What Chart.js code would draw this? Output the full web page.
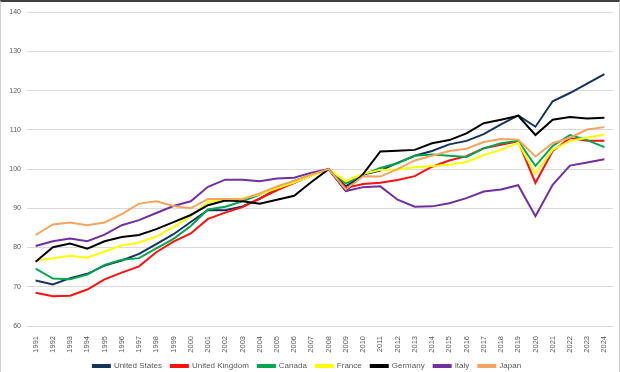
<!DOCTYPE html>
<html>
<head>
<meta charset="utf-8">
<script src="https://cdn.jsdelivr.net/npm/chart.js@4.4.1/dist/chart.umd.min.js"></script>
<style>
    html, body { margin: 0; padding: 0; background: #fff; }
    #wrap { width: 618px; height: 370px; border: 1px solid #d0d0d0; border-top: 2px solid #404040; position: relative; }
    canvas { display: block; }
</style>
</head>
<body>
<div id="wrap"><canvas id="myChart" width="618" height="369"></canvas></div>
<script>
// years 1991..2024
var years = [];
for (var y = 1991; y <= 2024; y++) years.push(String(y));

var yTicks = [60, 70, 80, 90, 100, 110, 120, 130, 140];

var unitedStates = [71.6, 70.6, 72.2, 73.3, 75.4, 76.7, 78.4, 80.9, 83.4, 86.5, 89.6, 89.5, 90.5, 92.4, 95.0, 96.5, 98.4, 100,
    95.6, 98.6, 99.6, 101.6, 103.4, 104.6, 106.3, 107.2, 108.9, 111.4, 113.7, 110.8, 117.3, 119.4, 121.8, 124.2];
var unitedKingdom = [68.5, 67.6, 67.7, 69.3, 71.9, 73.6, 75.2, 78.8, 81.5, 83.6, 87.3, 88.9, 90.3, 92.5, 94.6, 96.5, 98.4, 100,
    95.2, 96.2, 96.5, 97.2, 98.2, 100.6, 102.2, 103.3, 105.3, 106.2, 107.1, 96.5, 104.6, 107.9, 107.2, 107.2];
var canada = [74.6, 72.1, 71.9, 73.1, 75.6, 76.9, 77.3, 79.8, 82.2, 85.5, 89.7, 90.4, 91.8, 93.5, 95.4, 97.0, 98.6, 100,
    96.4, 98.6, 100.3, 101.5, 103.4, 103.7, 103.4, 103.1, 105.3, 106.6, 107.2, 100.8, 105.9, 108.7, 107.4, 105.6];
var france = [76.6, 77.3, 77.9, 77.4, 79.0, 80.5, 81.3, 82.8, 85.2, 88.0, 91.6, 92.3, 92.5, 93.6, 95.1, 96.6, 98.3, 100,
    96.9, 98.8, 99.8, 99.9, 100.5, 100.8, 101.1, 101.8, 103.6, 104.9, 106.7, 98.8, 104.9, 107.2, 108.0, 108.8];
var germany = [76.4, 80.1, 81.0, 79.7, 81.6, 82.7, 83.2, 84.7, 86.5, 88.3, 90.8, 92.0, 91.8, 91.2, 92.2, 93.2, 96.7, 100,
    94.5, 98.7, 104.5, 104.7, 104.9, 106.6, 107.4, 109.1, 111.7, 112.6, 113.6, 108.7, 112.6, 113.3, 112.9, 113.1];
var italy = [80.4, 81.6, 82.3, 81.6, 83.3, 85.7, 87.0, 88.8, 90.6, 91.8, 95.5, 97.3, 97.3, 96.9, 97.6, 97.8, 99.1, 100,
    94.4, 95.4, 95.6, 92.2, 90.4, 90.5, 91.3, 92.6, 94.3, 94.8, 95.9, 88.0, 96.0, 100.9, 101.7, 102.5];
var japan = [83.2, 85.9, 86.4, 85.7, 86.4, 88.5, 91.2, 91.8, 90.6, 90.0, 92.4, 92.4, 92.3, 93.8, 95.6, 97.0, 98.6, 100,
    94.8, 98.2, 98.1, 100.0, 102.2, 103.4, 104.6, 105.2, 106.9, 107.7, 107.5, 103.2, 106.6, 108.0, 110.1, 110.7];

var seriesNames = ["United States", "United Kingdom", "Canada", "France", "Germany", "Italy", "Japan"];
var seriesData = [unitedStates, unitedKingdom, canada, france, germany, italy, japan];
var seriesColors = ["#16325c", "#ff1010", "#00a550", "#ffff00", "#000000", "#7030a0", "#f4a460"];

var datasets = [];
for (var i = 0; i < seriesNames.length; i++) {
    datasets.push({
        label: seriesNames[i],
        data: seriesData[i],
        borderColor: seriesColors[i],
        backgroundColor: seriesColors[i],
        borderWidth: 2,
        pointRadius: 0,
        tension: 0,
        order: seriesNames.length - i   // later series on top, like Excel
    });
}

const ctx = document.getElementById('myChart');
new Chart(ctx, {
    type: 'line',
    data: { labels: years, datasets: datasets },
    options: {
        responsive: false,
        animation: false,
        layout: { padding: { top: 9, right: 6, left: 0, bottom: -9 } },
        plugins: {
            tooltip: { enabled: false },
            legend: {
                position: 'bottom',
                labels: {
                    boxWidth: 17,
                    boxHeight: 2,
                    padding: 9,
                    color: '#595959',
                    font: { family: 'Liberation Sans, Arial, sans-serif', size: 8 },
                    sort: function (a, b) { return a.datasetIndex - b.datasetIndex; }
                }
            }
        },
        scales: {
            x: {
                offset: true,
                grid: { display: false },
                border: { display: false },
                ticks: {
                    autoSkip: false,
                    maxRotation: 90,
                    minRotation: 90,
                    padding: 2,
                    color: '#595959',
                    font: { family: 'Liberation Sans, Arial, sans-serif', size: 7.5 }
                },
                afterFit: function (scale) { scale.height = 27; }
            },
            y: {
                min: 60,
                max: 140,
                afterBuildTicks: function (scale) {
                    scale.ticks = yTicks.map(function (v) { return { value: v }; });
                },
                grid: { color: '#d9d9d9', lineWidth: 1, drawTicks: false },
                border: { display: false },
                ticks: {
                    padding: 6,
                    color: '#595959',
                    font: { family: 'Liberation Sans, Arial, sans-serif', size: 7 }
                },
                afterFit: function (scale) { scale.width = 26; }
            }
        }
    }
});
</script>
</body>
</html>
